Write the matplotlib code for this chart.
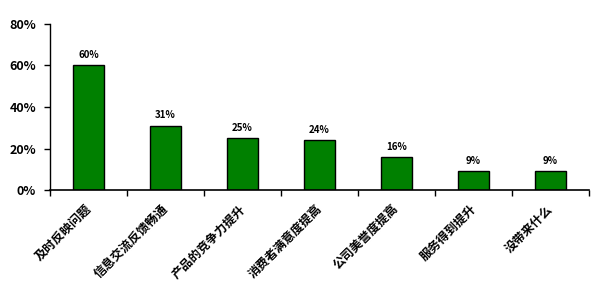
import matplotlib
matplotlib.use('Agg')
from matplotlib import pyplot as plt
from matplotlib.ticker import FixedLocator, FuncFormatter

plt.rcParams['font.family'] = ['Noto Sans CJK SC', 'DejaVu Sans']

# Data
categories = ['及时反映问题', '信息交流反馈畅通', '产品的竞争力提升', '消费者满意度提高',
              '公司美誉度提高', '服务得到提升', '没带来什么']
values = [60, 31, 25, 24, 16, 9, 9]
bar_labels = ['60%', '31%', '25%', '24%', '16%', '9%', '9%']
y_ticks = [0, 20, 40, 60, 80]

fig = plt.figure(figsize=(6.03, 2.92), dpi=100)
ax = fig.add_axes([50 / 603, (292 - 190) / 292, 539 / 603, 166 / 292])

x = list(range(len(categories)))
bars = ax.bar(x, values, width=0.41, color='#008000', edgecolor='black', linewidth=1)

for xi, v, lab in zip(x, values, bar_labels):
    ax.text(xi, v + 2.5, lab, ha='center', va='bottom', fontsize=7, fontweight='bold')

ax.set_xlim(-0.5, len(categories) - 0.5)
ax.set_ylim(0, 80)
ax.set_yticks(y_ticks)
ax.yaxis.set_major_formatter(FuncFormatter(lambda v, p: f'{int(v)}%'))
ax.tick_params(axis='y', labelsize=9, length=4, width=1, pad=6)
for t in ax.get_yticklabels():
    t.set_fontweight('bold')

# boundary ticks on x, labels at centers
ax.xaxis.set_major_locator(FixedLocator([i - 0.5 for i in range(len(categories) + 1)]))
ax.xaxis.set_major_formatter(FuncFormatter(lambda v, p: ''))
ax.xaxis.set_minor_locator(FixedLocator([i - 0.05 for i in x]))
ax.set_xticklabels(categories, minor=True, rotation=45, ha='right', rotation_mode='anchor',
                   fontsize=8.8, fontweight='bold')
ax.tick_params(axis='x', which='major', length=4, width=1, direction='out')
ax.tick_params(axis='x', which='minor', length=0, pad=9)

for side in ['top', 'right']:
    ax.spines[side].set_visible(False)
ax.spines['left'].set_linewidth(1)
ax.spines['bottom'].set_linewidth(1.2)

fig.savefig('out.png', dpi=100)
